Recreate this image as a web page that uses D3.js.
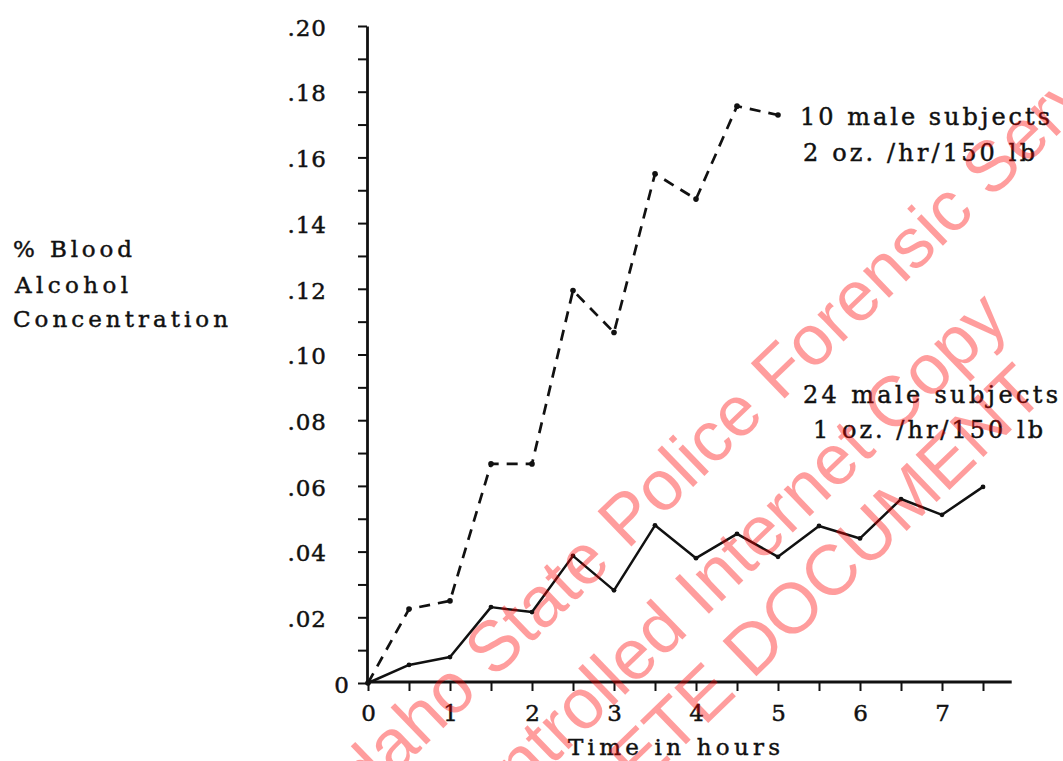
<!DOCTYPE html>
<html>
<head>
<meta charset="utf-8">
<script src="https://cdn.jsdelivr.net/npm/d3@7"></script>
<style>
  html, body { margin: 0; padding: 0; background: #fff; }
  svg { display: block; }
  .serif { font-family: "DejaVu Serif", "Liberation Serif", serif; fill: #111; stroke: #111; stroke-width: 0.45px; }
</style>
</head>
<body>
<svg id="chart" width="1063" height="761"></svg>
<script>
// ---- data ----
const timesLow = [0, 0.5, 1, 1.5, 2, 2.5, 3, 3.5, 4, 4.5, 5, 5.5, 6, 6.5, 7, 7.5];
const bacLow   = [0, 0.0055, 0.0079, 0.0231, 0.0216, 0.0387, 0.0282, 0.048, 0.038, 0.0454, 0.0384, 0.0478, 0.044, 0.056, 0.0512, 0.0597];
const timesHigh = [0, 0.5, 1, 1.5, 2, 2.5, 3, 3.5, 4, 4.5, 5];
const bacHigh   = [0, 0.0225, 0.025, 0.0667, 0.0667, 0.1195, 0.1067, 0.155, 0.1473, 0.1756, 0.1729];
const xTickValues = [0, 0.5, 1, 1.5, 2, 2.5, 3, 3.5, 4, 4.5, 5, 5.5, 6, 6.5, 7, 7.5];
const xTickLabels = ["0", "", "1", "", "2", "", "3", "", "4", "", "5", "", "6", "", "7", ""];
const yTickValues = [0, 0.01, 0.02, 0.03, 0.04, 0.05, 0.06, 0.07, 0.08, 0.09, 0.10, 0.11, 0.12, 0.13, 0.14, 0.15, 0.16, 0.17, 0.18, 0.19, 0.20];
const yTickLabels = ["0", "", ".02", "", ".04", "", ".06", "", ".08", "", ".10", "", ".12", "", ".14", "", ".16", "", ".18", "", ".20"];
const yTitleLines = ["% Blood", "Alcohol", "Concentration"];
const xTitle = "Time in hours";
const legendHigh = ["10 male subjects", "2 oz. /hr/150 lb"];
const legendLow = ["24 male subjects", "1 oz. /hr/150 lb"];
const watermarkLines = ["Idaho State Police Forensic Services", "Uncontrolled Internet Copy", "OBSOLETE DOCUMENT"];

// ---- layout ----
const svg = d3.select("#chart");
svg.append("rect").attr("width", 1063).attr("height", 761).attr("fill", "#fff");

const x = d3.scaleLinear().domain([0, 7.85]).range([368, 368 + 7.85 * 82]);
const y = d3.scaleLinear().domain([0, 0.20]).range([683, 26]);

// y axis
const yAxis = d3.axisLeft(y)
  .tickValues(yTickValues)
  .tickFormat((d, i) => yTickLabels[i])
  .tickSize(9)
  .tickSizeOuter(0)
  .tickPadding(31);
const gy = svg.append("g").attr("transform", `translate(${x(0) - 1},0)`).call(yAxis);
gy.select(".domain").attr("stroke", "#111").attr("stroke-width", 2.8);
gy.selectAll(".tick line").attr("stroke", "#111").attr("stroke-width", 2);
gy.selectAll(".tick text")
  .attr("class", "serif")
  .style("font-size", "23px")
  .style("letter-spacing", "1px")
  .attr("dy", "0.4em");
gy.selectAll(".tick").filter(d => d === 0).select("text").attr("x", -17);

// x axis
const xAxis = d3.axisBottom(x)
  .tickValues(xTickValues)
  .tickFormat((d, i) => xTickLabels[i])
  .tickSize(9)
  .tickSizeOuter(0)
  .tickPadding(14);
const gx = svg.append("g").attr("transform", `translate(0,${y(0) - 1})`).call(xAxis);
gx.select(".domain").attr("stroke", "#111").attr("stroke-width", 2.8)
  .attr("d", `M${x(0) - 2},0H${x(7.85)}`);
gx.selectAll(".tick line").attr("stroke", "#111").attr("stroke-width", 2);
gx.selectAll(".tick text")
  .attr("class", "serif")
  .style("font-size", "23px");

// lines
const line = d3.line().x(d => x(d[0])).y(d => y(d[1]));
const lowPts = timesLow.map((t, i) => [t, bacLow[i]]);
const highPts = timesHigh.map((t, i) => [t, bacHigh[i]]);

svg.append("path").datum(highPts).attr("d", line)
  .attr("fill", "none").attr("stroke", "#111").attr("stroke-width", 2.7)
  .attr("stroke-dasharray", "11,8");
svg.append("path").datum(lowPts).attr("d", line)
  .attr("fill", "none").attr("stroke", "#111").attr("stroke-width", 2.5)
  .attr("stroke-linejoin", "round");

svg.selectAll(".ptHigh").data(highPts).enter().append("circle")
  .attr("cx", d => x(d[0])).attr("cy", d => y(d[1])).attr("r", 2.8).attr("fill", "#111");
svg.selectAll(".ptLow").data(lowPts).enter().append("circle")
  .attr("cx", d => x(d[0])).attr("cy", d => y(d[1])).attr("r", 2.4).attr("fill", "#111");

// text helpers
function txt(str, xPos, yPos, len, size) {
  svg.append("text").attr("class", "serif")
    .attr("x", xPos).attr("y", yPos)
    .attr("textLength", len).attr("lengthAdjust", "spacing")
    .style("font-size", size + "px")
    .text(str);
}
// y title
txt(yTitleLines[0], 13, 257, 119, 23);
txt(yTitleLines[1], 15, 293, 113, 23);
txt(yTitleLines[2], 13, 327, 215, 23);
// x title
txt(xTitle, 568, 755, 212, 23);
// legends
txt(legendHigh[0], 800, 125, 250, 24);
txt(legendHigh[1], 803, 161, 232, 24);
txt(legendLow[0], 803, 403, 255, 24);
txt(legendLow[1], 813, 438, 230, 24);

// watermark
const wm = svg.append("g").attr("opacity", 0.38);
const wmPos = [[752, 396, 1144], [690, 598, 833], [738, 660, 801]];
watermarkLines.forEach((s, i) => {
  wm.append("text")
    .attr("transform", `translate(${wmPos[i][0]},${wmPos[i][1]}) rotate(-44)`)
    .attr("text-anchor", "middle")
    .attr("dominant-baseline", "central")
    .attr("fill", "#ff0000")
    .style("font-family", "'Liberation Sans', Arial, sans-serif")
    .style("font-size", "71px")
    .text(s);
});
</script>
</body>
</html>
